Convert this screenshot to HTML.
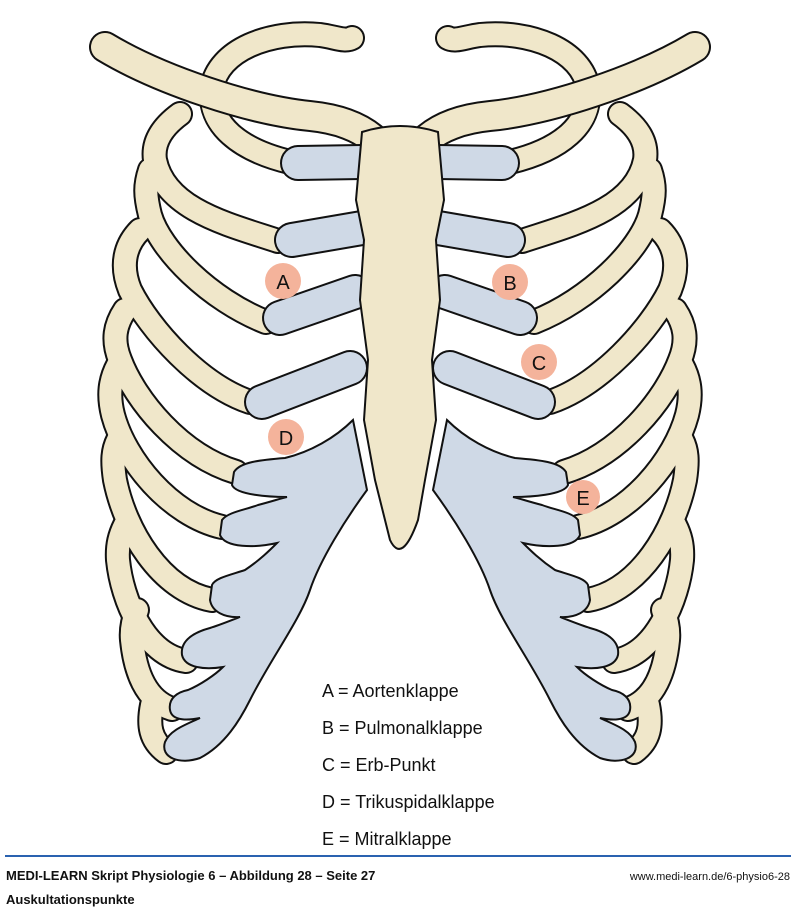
<!DOCTYPE html>
<html><head><style>
body{margin:0;background:#fff;width:800px;height:910px;overflow:hidden;font-family:"Liberation Sans",sans-serif}
svg{position:absolute;left:0;top:0}
</style></head><body>
<svg width="800" height="910" viewBox="0 0 800 910">
<defs>
<g id="half">
 <g fill="none" stroke-linecap="round">
  <g stroke="#111" stroke-width="26">
   <path id="r10" d="M166,752 C150,740 148,725 152,705"/>
   <path id="r9" d="M172,709 C145,700 135,670 132,640 C131,630 133,620 137,610"/>
   <path id="r8" d="M186,661 C145,655 122,600 118,560 C117,545 120,535 125,525"/>
   <path id="r7" d="M212,600 C160,590 125,530 115,480 C112,460 113,450 118,440"/>
   <path id="r6" d="M222,527 C170,515 125,460 113,415 C108,395 110,380 118,365"/>
   <path id="r5" d="M236,472 C180,455 135,400 120,360 C112,340 115,325 125,310"/>
   <path id="r4" d="M250,402 C200,385 150,330 130,290 C120,265 125,245 140,230"/>
   <path id="r3" d="M266,322 C210,300 160,250 150,215 C145,195 145,185 150,170"/>
   <path id="r2" d="M278,241 C230,225 165,210 155,160 C152,140 165,125 180,114"/>
   <path id="r1" d="M290,162 C240,150 208,125 212,88 C218,50 270,30 320,35 C335,37 345,42 352,38"/>
  </g>
  <g stroke="#f0e7ca" stroke-width="22">
   <use href="#r10"/><use href="#r9"/><use href="#r8"/><use href="#r7"/><use href="#r6"/><use href="#r5"/><use href="#r4"/><use href="#r3"/><use href="#r2"/><use href="#r1"/>
  </g>
  <g stroke="#111" stroke-width="32"><path id="cl" d="M105,47 C160,80 250,110 310,116 C340,119 360,128 372,138"/></g>
  <g stroke="#f0e7ca" stroke-width="28"><use href="#cl"/></g>
  <g stroke="#111" stroke-width="36">
   <path id="c1" d="M298,163 L362,162"/>
   <path id="c2" d="M292,240 L362,228"/>
   <path id="c3" d="M280,318 L355,292"/>
   <path id="c4" d="M262,402 L350,368"/>
  </g>
  <g stroke="#cfd9e6" stroke-width="32">
   <use href="#c1"/><use href="#c2"/><use href="#c3"/><use href="#c4"/>
  </g>
 </g>
 <path d="M353,420 L367,490 C345,520 320,560 310,590 C300,620 270,660 250,700 C240,720 225,745 200,758 C180,765 160,758 165,742 C170,730 185,725 200,718 C190,720 172,722 170,710 C168,698 178,692 188,690 C200,685 215,675 223,667 C205,670 185,668 182,655 C180,640 195,632 210,628 C220,625 232,620 240,617 C225,618 212,612 210,600 L212,585 C215,578 230,575 245,570 C260,560 270,550 277,543 C255,548 225,548 220,535 L222,520 C228,512 245,510 258,505 C270,502 282,498 287,497 C270,497 236,495 232,485 L234,472 C240,462 260,460 285,458 C310,452 335,438 353,420 Z" fill="#cfd9e6" stroke="#111" stroke-width="2"/>
</g>
</defs>
<use href="#half"/>
<use href="#half" transform="translate(800,0) scale(-1,1)"/>
<path d="M362,132 Q400,120 438,132 L444,200 L436,240 L440,300 L432,360 L436,420 L425,480 L418,520 Q402,565 390,540 L375,480 L364,420 L368,360 L360,300 L364,240 L356,200 Z" fill="#f0e7ca" stroke="#111" stroke-width="2"/>
<g fill="#f4b39b">
 <circle cx="283" cy="281" r="18"/><circle cx="510" cy="282" r="18"/><circle cx="539" cy="362" r="18"/><circle cx="286" cy="437" r="18"/><circle cx="583" cy="497" r="17"/>
</g>
<g font-size="20" text-anchor="middle" fill="#111">
 <text x="283" y="289">A</text><text x="510" y="290">B</text><text x="539" y="370">C</text><text x="286" y="445">D</text><text x="583" y="505">E</text>
</g>
<g font-size="18" fill="#111">
 <text x="322" y="697">A = Aortenklappe</text>
 <text x="322" y="734">B = Pulmonalklappe</text>
 <text x="322" y="771">C = Erb-Punkt</text>
 <text x="322" y="808">D = Trikuspidalklappe</text>
 <text x="322" y="845">E = Mitralklappe</text>
</g>
<rect x="5" y="855" width="786" height="2" fill="#2a62b0"/>
<text x="6" y="880" font-size="13" font-weight="bold" fill="#111">MEDI-LEARN Skript Physiologie 6 – Abbildung 28 – Seite 27</text>
<text x="790" y="880" font-size="11" text-anchor="end" fill="#111">www.medi-learn.de/6-physio6-28</text>
<text x="6" y="904" font-size="13" font-weight="bold" fill="#111">Auskultationspunkte</text>
</svg>
</body></html>
